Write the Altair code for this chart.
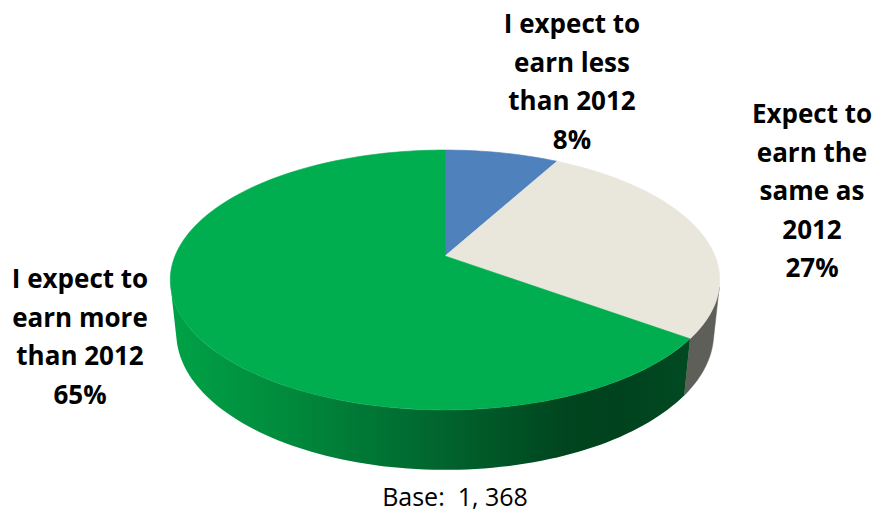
import math
import altair as alt
import pandas as pd

# ---------------- data ----------------
categories = [
    "I expect to earn less than 2012",
    "Expect to earn the same as 2012",
    "I expect to earn more than 2012",
]
label_lines = [
    ["I expect to", "earn less", "than 2012"],
    ["Expect to", "earn the", "same as", "2012"],
    ["I expect to", "earn more", "than 2012"],
]
values = [8, 27, 65]
base_note = "Base:\u00a0 1, 368"

# ---------------- style / layout ----------------
top_colors = ["#4f81bd", "#e9e7dc", "#00ad4f"]
wall_colors = ["#3a5f8c", "#5f5f5a", "#007a36"]
green_wall_gradient = {
    "gradient": "linear",
    "x1": 0, "x2": 1, "y1": 0, "y2": 0,
    "stops": [
        {"offset": 0.0, "color": "#00a246"},
        {"offset": 0.21, "color": "#008c3d"},
        {"offset": 0.48, "color": "#006a30"},
        {"offset": 0.76, "color": "#00451f"},
        {"offset": 0.86, "color": "#00421e"},
        {"offset": 1.0, "color": "#004a22"},
    ],
}
label_anchor = [(572, 33), (812, 123), (80, 288)]   # first-line baseline, page px
base_anchor = (455, 506)
MARGIN = 8

CX, CY = 445, 256          # pie centre on the page
K = 270.0                  # horizontal scale
DIST = 4.8                 # camera distance (in radii)
ALPHA = math.radians(27.7) # elevation
THICK = 0.224              # pie thickness (in radii)


def project(theta_deg, r=1.0, h=0.0):
    th = math.radians(theta_deg)
    X = r * math.sin(th)
    Z = r * math.cos(th)
    sa, ca = math.sin(ALPHA), math.cos(ALPHA)
    depth = DIST + Z * ca - h * sa
    up = Z * sa + h * ca
    return [CX + K * DIST * X / depth - MARGIN, CY - K * DIST * up / depth - MARGIN]


def arc_pts(a0, a1, h=0.0, n=None):
    if n is None:
        n = max(4, int(abs(a1 - a0) / 1.5))
    return [project(a0 + (a1 - a0) * i / n, 1.0, h) for i in range(n + 1)]


# visible outer wall range (front half as seen by the camera)
lim = math.degrees(math.acos(-1.0 / (DIST * math.cos(ALPHA))))
vis0, vis1 = lim, 360 - lim

total = sum(values)
starts, ends = [], []
acc = 0.0
for v in values:
    starts.append(acc / total * 360)
    acc += v
    ends.append(acc / total * 360)

top_features, wall_features, gradient_wall = [], [], []
for i, cat in enumerate(categories):
    a0, a1 = starts[i], ends[i]
    ring = [project(0, 0.0)] + arc_pts(a0, a1) + [project(0, 0.0)]
    top_features.append({
        "type": "Feature",
        "properties": {"category": cat, "color": top_colors[i]},
        "geometry": {"type": "Polygon", "coordinates": [ring]},
    })
    w0, w1 = max(a0, vis0), min(a1, vis1)
    if w1 > w0:
        top = arc_pts(w0, w1, 0.0)
        bot = arc_pts(w0, w1, -THICK)
        ring = top + bot[::-1] + [top[0]]
        feat = {
            "type": "Feature",
            "properties": {"category": cat, "color": wall_colors[i]},
            "geometry": {"type": "Polygon", "coordinates": [ring]},
        }
        if values[i] == max(values):
            gradient_wall.append(feat)
        else:
            wall_features.append(feat)

proj = dict(type="identity", scale=1, translate=[0, 0])

walls = alt.Chart(alt.Data(values=wall_features)).mark_geoshape(strokeWidth=0.5).encode(
    fill=alt.Fill("properties.color:N", scale=None),
    stroke=alt.Stroke("properties.color:N", scale=None),
).project(**proj)

gwall = alt.Chart(alt.Data(values=gradient_wall)).mark_geoshape(
    fill=green_wall_gradient, strokeWidth=0
).project(**proj)

tops = alt.Chart(alt.Data(values=top_features)).mark_geoshape(strokeWidth=0.6).encode(
    fill=alt.Fill("properties.color:N", scale=None),
    stroke=alt.Stroke("properties.color:N", scale=None),
).project(**proj)

labels_df = pd.DataFrame({
    "category": categories,
    "text": ["\n".join(lines + [f"{v}%"]) for lines, v in zip(label_lines, values)],
    "lon": [a[0] - MARGIN for a in label_anchor],
    "lat": [a[1] - MARGIN for a in label_anchor],
})

labels = alt.Chart(labels_df).mark_text(
    font="Open Sans", fontWeight="bold", fontSize=26, lineHeight=38.5,
    align="center", baseline="alphabetic", lineBreak="\n", color="#000000",
).encode(
    longitude="lon:Q", latitude="lat:Q", text="text:N",
).project(**proj)

base_df = pd.DataFrame({"text": [base_note],
                        "lon": [base_anchor[0] - MARGIN],
                        "lat": [base_anchor[1] - MARGIN]})
base = alt.Chart(base_df).mark_text(
    font="Open Sans", fontSize=25, align="center", baseline="alphabetic", color="#000000",
).encode(longitude="lon:Q", latitude="lat:Q", text="text:N").project(**proj)

chart = alt.layer(walls, gwall, tops, labels, base).properties(
    width=865, height=503, padding=0
).configure_view(strokeWidth=0)

chart.save("out.html", embed_options={"renderer": "svg", "actions": False})
